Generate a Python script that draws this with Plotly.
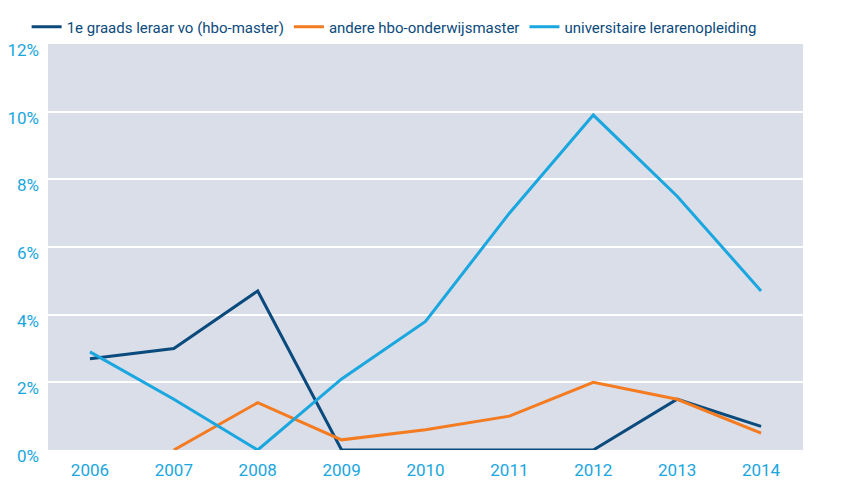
import plotly.graph_objects as go

# Jaren (categorieën)
jaren = ["2006", "2007", "2008", "2009", "2010", "2011", "2012", "2013", "2014"]

# Percentages per opleiding
eerste_graads = [2.7, 3.0, 4.7, 0.0, 0.0, 0.0, 0.0, 1.5, 0.7]
andere_hbo = [None, 0.0, 1.4, 0.3, 0.6, 1.0, 2.0, 1.5, 0.5]
universitair = [2.9, 1.5, 0.0, 2.1, 3.8, 7.0, 9.9, 7.5, 4.7]

tick_vals = [0, 2, 4, 6, 8, 10, 12]
tick_text = ["0%", "2%", "4%", "6%", "8%", "10%", "12%"]

FONT = "Roboto, Liberation Sans Narrow, sans-serif"
DONKERBLAUW = "#0b4a7c"
ORANJE = "#f47b20"
LICHTBLAUW = "#1aa6de"

fig = go.Figure()
fig.add_trace(go.Scatter(x=jaren, y=eerste_graads, mode="lines",
                         name="1e graads leraar vo (hbo-master)",
                         line=dict(color=DONKERBLAUW, width=3)))
fig.add_trace(go.Scatter(x=jaren, y=andere_hbo, mode="lines",
                         name="andere hbo-onderwijsmaster",
                         line=dict(color=ORANJE, width=3)))
fig.add_trace(go.Scatter(x=jaren, y=universitair, mode="lines",
                         name="universitaire lerarenopleiding",
                         line=dict(color=LICHTBLAUW, width=3)))

# de pagina heeft 8px body-marge, dus marges zijn daarvoor gecorrigeerd
fig.update_layout(
    width=847, height=487,
    margin=dict(l=40, r=52, t=36, b=45, autoexpand=False),
    paper_bgcolor="white",
    plot_bgcolor="#d9dee9",
    font=dict(family=FONT, size=16, color=DONKERBLAUW),
    legend=dict(orientation="h", xref="container", x=0.022, xanchor="left",
                yref="container", y=0.995, yanchor="top",
                font=dict(size=15, color=DONKERBLAUW),
                itemwidth=30, traceorder="normal", bgcolor="rgba(0,0,0,0)"),
    showlegend=True,
    xaxis=dict(range=[-0.5, 8.5], showgrid=False, zeroline=False, ticks="",
               automargin=False, ticklabelstandoff=8,
               tickfont=dict(color=LICHTBLAUW, size=17)),
    yaxis=dict(range=[0, 12], tickvals=tick_vals, ticktext=tick_text,
               showgrid=True, gridcolor="white", gridwidth=1.5, zeroline=False,
               automargin=False, ticks="", ticklabelstandoff=8, ticklabelshift=6,
               tickfont=dict(color=LICHTBLAUW, size=17)),
)

fig.write_html("out.html")
